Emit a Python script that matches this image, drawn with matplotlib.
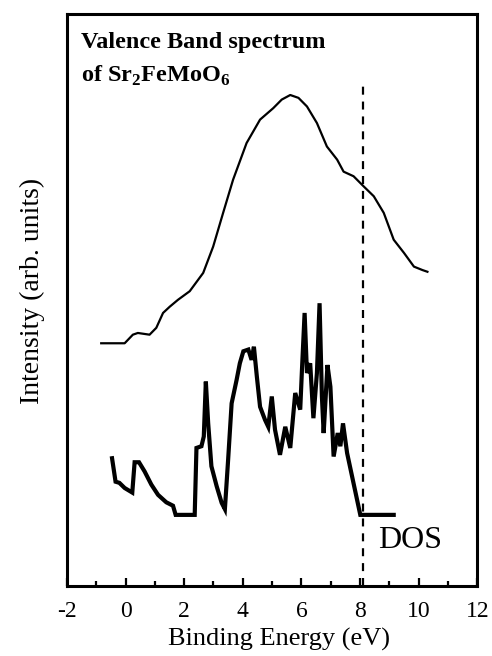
import numpy as np
import matplotlib
matplotlib.use("Agg")
import matplotlib.pyplot as plt

plt.rcParams['font.family'] = ['Liberation Serif', 'DejaVu Serif']
plt.rcParams['mathtext.fontset'] = 'custom'
plt.rcParams['mathtext.rm'] = 'Liberation Serif'
plt.rcParams['mathtext.bf'] = 'Liberation Serif:bold'
plt.rcParams['axes.unicode_minus'] = False

# valence band spectrum (upper curve)
vb_energy = [-0.83, -0.03, 0.25, 0.42, 0.82, 1.05, 1.28, 1.51, 1.79, 2.19, 2.65,
             2.99, 3.33, 3.67, 4.13, 4.59, 5.04, 5.33, 5.62, 5.90, 6.19, 6.53,
             6.87, 7.22, 7.44, 7.78, 8.13, 8.47, 8.81, 9.15, 9.50, 9.84, 10.13, 10.30]
vb_intensity = [42.4, 42.4, 43.9, 44.2, 43.9, 45.1, 47.7, 48.8, 50.0, 51.5, 54.7,
                59.3, 65.2, 71.0, 77.4, 81.5, 83.5, 85.0, 85.8, 85.3, 83.8, 80.9,
                76.8, 74.5, 72.4, 71.6, 69.8, 68.1, 65.2, 60.5, 58.2, 55.8, 55.2, 54.9]

# calculated density of states (lower curve)
dos_energy = [-0.46, -0.34, -0.21, -0.03, 0.23, 0.31, 0.46, 0.65, 0.88, 1.11, 1.39,
              1.62, 1.71, 2.36, 2.42, 2.59, 2.67, 2.74, 2.82, 2.93, 3.11, 3.28,
              3.39, 3.50, 3.62, 3.79, 3.90, 4.02, 4.19, 4.30, 4.38, 4.48, 4.59,
              4.76, 4.87, 4.99, 5.10, 5.27, 5.45, 5.62, 5.79, 5.96, 6.02, 6.11,
              6.19, 6.30, 6.41, 6.53, 6.62, 6.70, 6.76, 6.89, 6.99, 7.10, 7.24,
              7.33, 7.42, 7.56, 8.01, 9.15]
dos_intensity = [22.3, 18.2, 18.0, 17.1, 16.3, 21.6, 21.6, 20.0, 17.7, 15.9, 14.6,
                 14.0, 12.4, 12.4, 24.1, 24.4, 26.1, 35.7, 28.4, 20.9, 17.4, 14.5,
                 13.4, 22.0, 31.9, 36.0, 38.9, 41.0, 41.3, 39.5, 41.8, 36.6, 31.3,
                 29.0, 27.8, 33.1, 27.3, 22.9, 27.8, 24.1, 33.7, 30.8, 37.8, 47.7,
                 37.2, 38.9, 29.3, 37.2, 49.4, 33.1, 26.7, 38.6, 34.8, 22.6, 26.7,
                 24.4, 28.4, 23.2, 12.4, 12.4]

fermi_x = 8.1
xticks = [-2, 0, 2, 4, 6, 8, 10, 12]

fig = plt.figure(figsize=(4.92, 6.56), dpi=100)
ax = fig.add_axes([0.136, 0.107, 0.834, 0.872])

ax.plot(vb_energy, vb_intensity, color='black', lw=1.6)
ax.plot(dos_energy, dos_intensity, color='black', lw=3.0, solid_joinstyle='miter')
ax.plot([fermi_x, fermi_x], [0, 87.9], color='black', lw=1.6, linestyle=(0, (3.6, 3.1)))

ax.text(-1.51, 94.1, 'Valence Band spectrum', fontsize=17.5, fontweight='bold', va='baseline')
ax.text(-1.51, 88.1, r'of Sr$_{\mathbf{2}}$FeMoO$_{\mathbf{6}}$', fontsize=17.5,
        fontweight='bold', va='baseline')
ax.text(8.63, 6.6, 'DOS', fontsize=23, va='baseline')

ax.set_xlim(-2, 12)
ax.set_ylim(0, 100)
ax.set_xticks(xticks)
ax.set_xticks(np.arange(-1, 12, 2), minor=True)
ax.set_yticks([])
ax.tick_params(axis='x', which='major', direction='in', length=6, width=1.6,
               labelsize=17, pad=11)
ax.tick_params(axis='x', which='minor', direction='in', length=3.5, width=1.6)
for s in ax.spines.values():
    s.set_linewidth(2.2)

ax.set_xlabel('Binding Energy (eV)', fontsize=19)
ax.xaxis.set_label_coords(0.517, -0.073)
ax.set_ylabel('Intensity (arb. units)', fontsize=20)
ax.yaxis.set_label_coords(-0.054, 0.515)

fig.savefig('out.png', dpi=100)
